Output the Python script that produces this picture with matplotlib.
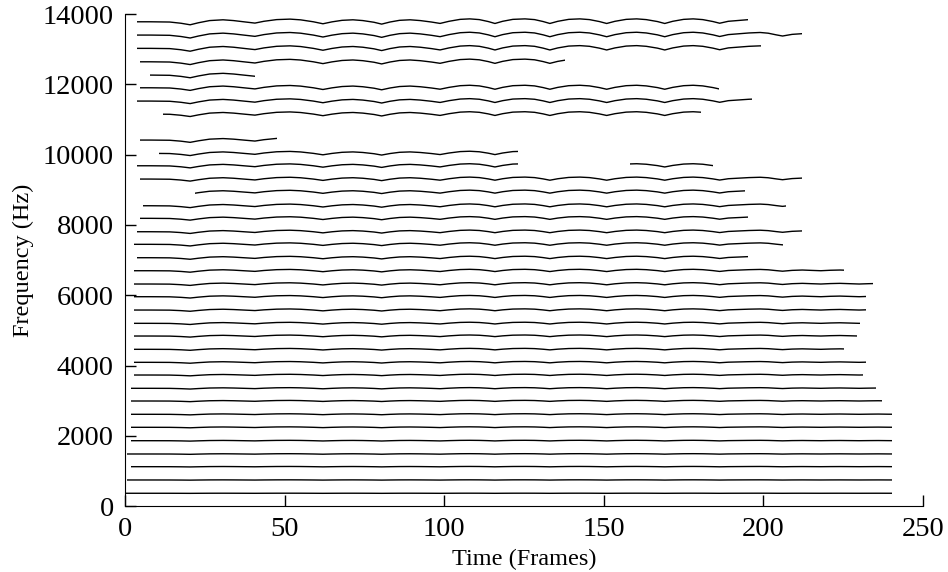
import matplotlib
matplotlib.use("Agg")
import matplotlib.pyplot as plt
from matplotlib.patches import Rectangle

# sinusoidal tracks: centre frequency (Hz), first and last frame
track_freq = [13779, 13401, 13023, 12641, 12263, 11902, 11524, 11154,
              10415, 10037, 9684, 9684, 9306, 8937, 8547, 8189, 7808, 7450,
              7069, 6699, 6321, 5960, 5581, 5203, 4842, 4464, 4094, 3733,
              3355, 2994, 2616, 2246, 1865, 1487, 1126, 748, 370]
track_start = [3.7, 3.7, 3.7, 4.7, 7.8, 4.7, 3.7, 12.0,
               4.7, 10.7, 3.7, 158.2, 4.7, 21.9, 5.7, 4.7, 3.7, 2.8,
               3.7, 2.8, 2.8, 2.8, 2.8, 2.8, 2.8, 2.8, 2.8, 2.8,
               1.8, 1.8, 1.8, 1.8, 1.8, 0.7, 1.8, 0.7, 0.0]
track_end = [195.2, 212.2, 199.2, 138.0, 40.7, 186.2, 196.3, 180.3,
             47.6, 123.0, 123.0, 184.1, 212.2, 194.2, 207.2, 195.2, 212.2, 206.2,
             195.2, 225.3, 234.4, 232.3, 232.3, 230.4, 229.4, 225.3, 232.3, 231.3,
             235.2, 237.3, 240.4, 240.4, 240.4, 240.4, 240.4, 240.4, 240.4]

# shared vibrato contour (percent deviation)
contour_frame = [0, 8, 14, 17.5, 20.4, 23, 26.5, 30.7, 34, 37.8, 40.7, 43.5,
                 47.5, 51.7, 55, 59, 62, 64.8, 68, 71.4, 74.5, 78, 80.4, 83,
                 86, 89.3, 92.5, 96, 98.7, 101.5, 105, 108, 111, 113.8, 115.9,
                 118.3, 121.5, 125.3, 128.3, 131, 133.1, 135.6, 139, 142.5,
                 145.5, 148.6, 150.9, 153.5, 157, 160.3, 163.3, 166.8, 169.1,
                 171.6, 175, 178, 181, 184.2, 186.3, 189, 195.5, 199, 201.5,
                 204, 206, 209, 212.2, 215, 218, 221, 224, 227, 230, 233, 236,
                 239, 242]
contour_dev = [0, 0, -0.05, -0.3, -0.62, -0.2, 0.25, 0.41, 0.25, -0.05, -0.27, 0.1,
               0.45, 0.55, 0.4, 0.0, -0.41, -0.02, 0.3, 0.41, 0.25, -0.1, -0.48, -0.05,
               0.3, 0.41, 0.25, -0.05, -0.34, 0.1, 0.5, 0.6, 0.45, 0.05, -0.35,
               0.1, 0.5, 0.6, 0.45, 0.05, -0.35, 0.1, 0.5, 0.6,
               0.45, 0.05, -0.35, 0.1, 0.5, 0.6, 0.45, 0.05, -0.35,
               0.1, 0.5, 0.6, 0.45, 0.05, -0.3, 0.1, 0.45, 0.55, 0.4,
               0.05, -0.2, 0.15, 0.3, 0.15, 0.0, 0.2, 0.3, 0.15, 0.0, 0.15, 0.25,
               0.1, 0.0]

plt.rcParams['font.family'] = ['Liberation Serif', 'DejaVu Serif']

fig = plt.figure(figsize=(9.48, 5.72), dpi=100)
ax = fig.add_axes([0.1319, 0.1149, 0.8417, 0.8606])

for f, s, e in zip(track_freq, track_start, track_end):
    ys = [f * (1 + d / 100.0) for d in contour_dev]
    line, = ax.plot(contour_frame, ys, color="black", lw=1.0)
    clip = Rectangle((s, f - 150), e - s, 300, transform=ax.transData)
    line.set_clip_path(clip)

ax.set_xlim(0, 250)
ax.set_ylim(0, 14000)
ax.set_xticks(range(0, 251, 50))
ax.set_yticks(range(0, 14001, 2000))
ax.spines["top"].set_visible(False)
ax.spines["right"].set_visible(False)
ax.tick_params(direction="in", length=8, width=1, labelsize=20.5, pad=8)
ax.set_xlabel("Time (Frames)", fontsize=17.5, labelpad=5)
ax.set_ylabel("Frequency (Hz)", fontsize=17.5, labelpad=6)

fig.savefig("out.png", dpi=100)
